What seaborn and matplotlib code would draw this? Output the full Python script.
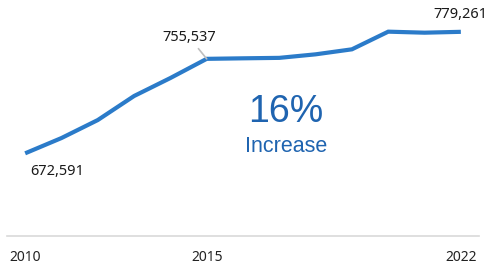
import matplotlib
matplotlib.use("Agg")
import matplotlib.pyplot as plt
import seaborn as sns
import pandas as pd

# data
years = [2010, 2011, 2012, 2013, 2014, 2015, 2016, 2017, 2018, 2019, 2020, 2021, 2022]
population = [672591, 686000, 701800, 722900, 738700, 755537, 756000, 756400,
              759500, 763900, 779400, 778500, 779261]
tick_years = [2010, 2015, 2022]
labelled = {2010: "672,591", 2015: "755,537", 2022: "779,261"}
big_text = "16%"
small_text = "Increase"

df = pd.DataFrame({"year": years, "value": population})

sns.set_style("white")
plt.rcParams['font.family'] = ['Noto Sans', 'DejaVu Sans']

fig = plt.figure(figsize=(4.89, 2.66), dpi=100)
ax = fig.add_axes([7 / 489, 30 / 266, 472 / 489, 236 / 266])

sns.lineplot(data=df, x="year", y="value", ax=ax, color="#2b7bc9", linewidth=3,
             solid_capstyle="butt", solid_joinstyle="miter")

ax.set_xlim(2009.5, 2022.5)
ax.set_ylim(600000, 807200)
ax.set_xticks(tick_years)
ax.set_xticklabels([str(y) for y in tick_years], fontsize=10, color="#222222")
ax.set_yticks([])
ax.set_xlabel("")
ax.set_ylabel("")
ax.tick_params(axis="x", length=0, pad=10)

for side in ["top", "left", "right"]:
    ax.spines[side].set_visible(False)
ax.spines["bottom"].set_color("#d9d9d9")
ax.spines["bottom"].set_linewidth(1.2)

# data labels
v = dict(zip(years, population))
ax.annotate(labelled[2010], xy=(2010, v[2010]), xytext=(32, -18), textcoords="offset pixels",
            ha="center", va="center", fontsize=10.5, color="#1a1a1a")
ax.annotate(labelled[2015], xy=(2015, v[2015]), xytext=(-17, 21), textcoords="offset pixels",
            ha="center", va="center", fontsize=10.5, color="#1a1a1a",
            arrowprops=dict(arrowstyle="-", color="#bfbfbf", lw=1.2,
                            shrinkA=0, shrinkB=0))
ax.annotate(labelled[2022], xy=(2022, v[2022]), xytext=(0, 17), textcoords="offset pixels",
            ha="center", va="center", fontsize=10.5, color="#1a1a1a")

# centre text
fig.text(286 / 489, 1 - 112 / 266, big_text, ha="center", va="center", fontsize=27,
         color="#1f64b0", family=["Liberation Sans", "DejaVu Sans"])
fig.text(286 / 489, 1 - 147 / 266, small_text, ha="center", va="center", fontsize=15.5,
         color="#1f64b0", family=["Liberation Sans", "DejaVu Sans"])

fig.savefig("out.png", dpi=100)
